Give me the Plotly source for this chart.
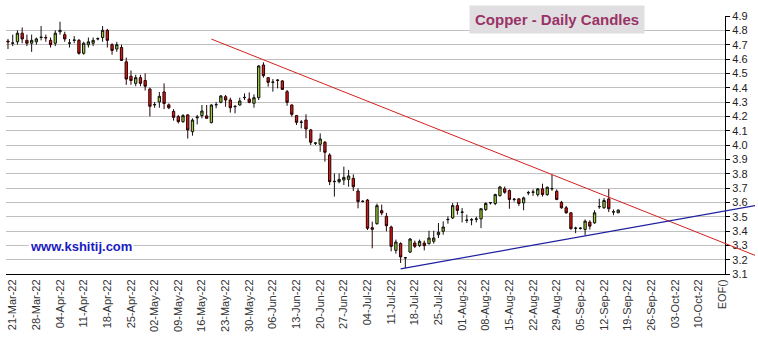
import numpy as np
import pandas as pd
import plotly.graph_objects as go

# Daily OHLC for copper, one entry per weekday starting 18-Mar-2022
opens = [4.725, 4.71, 4.72, 4.78, 4.73, 4.71, 4.72, 4.75, 4.75, 4.73,
         4.71, 4.79, 4.77, 4.71, 4.73, 4.73, 4.64, 4.70, 4.71, 4.74,
         4.75, 4.80, 4.70, 4.67, 4.68, 4.58, 4.48, 4.43, 4.47, 4.45,
         4.39, 4.28, 4.30, 4.37, 4.28, 4.235, 4.198, 4.163, 4.21, 4.093,
         4.19, 4.205, 4.203, 4.156, 4.28, 4.298, 4.337, 4.314, 4.267, 4.279,
         4.33, 4.321, 4.291, 4.33, 4.558, 4.47, 4.437, 4.453, 4.447, 4.372,
         4.279, 4.205, 4.158, 4.174, 4.105, 4.012, 4.005, 4.019, 3.93, 3.744,
         3.744, 3.756, 3.76, 3.767, 3.679, 3.605, 3.616, 3.423, 3.451, 3.542,
         3.502, 3.428, 3.265, 3.312, 3.212, 3.253, 3.316, 3.298, 3.316, 3.312,
         3.328, 3.374, 3.398, 3.479, 3.491, 3.577, 3.53, 3.474, 3.477, 3.482,
         3.485, 3.55, 3.596, 3.592, 3.647, 3.694, 3.682, 3.62, 3.624, 3.596,
         3.666, 3.67, 3.654, 3.694, 3.654, 3.694, 3.677, 3.60, 3.562, 3.527,
         3.418, 3.418, 3.411, 3.462, 3.457, 3.569, 3.562, 3.624, 3.532, 3.527]
highs = [4.74, 4.77, 4.80, 4.82, 4.77, 4.77, 4.75, 4.83, 4.77, 4.75,
         4.80, 4.86, 4.79, 4.74, 4.76, 4.74, 4.72, 4.75, 4.75, 4.75,
         4.83, 4.81, 4.71, 4.72, 4.70, 4.61, 4.52, 4.49, 4.49, 4.50,
         4.40, 4.30, 4.37, 4.43, 4.29, 4.25, 4.21, 4.215, 4.215, 4.186,
         4.21, 4.279, 4.279, 4.284, 4.30, 4.349, 4.349, 4.33, 4.279, 4.33,
         4.36, 4.367, 4.353, 4.558, 4.577, 4.47, 4.46, 4.46, 4.453, 4.384,
         4.284, 4.21, 4.174, 4.214, 4.112, 4.019, 4.081, 4.028, 3.942, 3.802,
         3.802, 3.849, 3.826, 3.795, 3.698, 3.616, 3.623, 3.465, 3.591, 3.584,
         3.526, 3.437, 3.34, 3.321, 3.219, 3.351, 3.333, 3.34, 3.333, 3.402,
         3.402, 3.456, 3.467, 3.502, 3.595, 3.60, 3.56, 3.514, 3.49, 3.50,
         3.56, 3.60, 3.60, 3.66, 3.715, 3.71, 3.69, 3.63, 3.63, 3.64,
         3.68, 3.69, 3.70, 3.73, 3.71, 3.793, 3.69, 3.61, 3.575, 3.53,
         3.43, 3.425, 3.48, 3.475, 3.545, 3.625, 3.63, 3.694, 3.55, 3.55]
lows = [4.67, 4.69, 4.70, 4.71, 4.69, 4.65, 4.70, 4.73, 4.72, 4.68,
        4.69, 4.77, 4.72, 4.68, 4.71, 4.63, 4.63, 4.68, 4.69, 4.73,
        4.72, 4.68, 4.63, 4.65, 4.59, 4.42, 4.42, 4.41, 4.41, 4.38,
        4.20, 4.26, 4.26, 4.25, 4.25, 4.17, 4.15, 4.155, 4.045, 4.065,
        4.144, 4.186, 4.186, 4.151, 4.256, 4.291, 4.267, 4.226, 4.221, 4.274,
        4.314, 4.291, 4.26, 4.314, 4.47, 4.407, 4.372, 4.395, 4.384, 4.274,
        4.198, 4.14, 4.116, 4.047, 4.0, 4.0, 3.953, 3.884, 3.72, 3.64,
        3.733, 3.721, 3.709, 3.679, 3.558, 3.60, 3.407, 3.279, 3.444, 3.51,
        3.398, 3.258, 3.242, 3.177, 3.142, 3.246, 3.281, 3.288, 3.265, 3.305,
        3.312, 3.351, 3.374, 3.451, 3.484, 3.514, 3.46, 3.456, 3.44, 3.46,
        3.42, 3.54, 3.585, 3.58, 3.64, 3.66, 3.555, 3.605, 3.575, 3.545,
        3.65, 3.645, 3.64, 3.64, 3.645, 3.68, 3.615, 3.555, 3.52, 3.41,
        3.385, 3.41, 3.37, 3.41, 3.45, 3.555, 3.555, 3.532, 3.51, 3.525]
closes = [4.72, 4.712, 4.78, 4.74, 4.71, 4.73, 4.74, 4.752, 4.748, 4.70,
          4.78, 4.80, 4.74, 4.712, 4.732, 4.64, 4.71, 4.72, 4.73, 4.742,
          4.80, 4.73, 4.66, 4.70, 4.59, 4.46, 4.45, 4.47, 4.43, 4.41,
          4.27, 4.282, 4.34, 4.29, 4.26, 4.193, 4.163, 4.205, 4.105, 4.174,
          4.195, 4.237, 4.186, 4.279, 4.282, 4.342, 4.314, 4.26, 4.269, 4.307,
          4.332, 4.298, 4.33, 4.551, 4.484, 4.437, 4.439, 4.451, 4.388, 4.298,
          4.214, 4.158, 4.16, 4.112, 4.019, 4.014, 4.042, 3.949, 3.744, 3.746,
          3.76, 3.774, 3.784, 3.709, 3.605, 3.607, 3.419, 3.412, 3.577, 3.526,
          3.437, 3.293, 3.323, 3.219, 3.214, 3.344, 3.293, 3.328, 3.298, 3.351,
          3.351, 3.391, 3.428, 3.481, 3.577, 3.544, 3.532, 3.476, 3.479, 3.484,
          3.555, 3.592, 3.598, 3.654, 3.707, 3.67, 3.62, 3.622, 3.592, 3.631,
          3.668, 3.672, 3.694, 3.654, 3.705, 3.696, 3.62, 3.562, 3.527, 3.416,
          3.42, 3.42, 3.469, 3.434, 3.527, 3.571, 3.613, 3.555, 3.534, 3.546]

first_day = "2022-03-18"
dates = pd.bdate_range(first_day, periods=len(opens))

# Weekly axis labels (Mondays) and the end-of-frame marker
week_starts = pd.date_range("2022-03-21", "2022-10-10", freq="W-MON")
tick_labels = [d.strftime("%d-%b-%y") for d in week_starts] + ["EOF()"]
end_of_frame = "2022-10-17"

# Trend lines: (date, price) end points
red_line_dates = ["2022-05-18", "2022-10-26"]
red_line_prices = [4.739, 3.229]
blue_line_dates = ["2022-07-13", "2022-10-26"]
blue_line_prices = [3.136, 3.5775]

price_ticks = [round(3.1 + 0.1 * k, 1) for k in range(19)]


def day_index(ds):
    """Trading-day slot (weekdays) counted from the first session."""
    d = pd.to_datetime(pd.Index(ds)).values.astype("datetime64[D]")
    return np.busday_count(np.datetime64(first_day, "D"), d)


x_candles = day_index(dates)
tick_pos = list(day_index(week_starts)) + list(day_index([end_of_frame]))

# Plot geometry: main panel ends at the price axis, overlay panel reaches the edge
W, H = 758, 340
m_l, m_r, m_t, m_b = 6, 0, 16, 66
axis_px = 728
main_frac = (axis_px - m_l) / (W - m_l - m_r)
x_lo, x_hi = -0.42, 151.6
x2_hi = x_lo + (x_hi - x_lo) / main_frac

grid_col = "#c0c0c0"
font_fam = "Arial, Liberation Sans, sans-serif"

fig = go.Figure()

fig.add_trace(go.Candlestick(
    x=x_candles, open=opens, high=highs, low=lows, close=closes,
    increasing=dict(fillcolor="#9ACD32", line=dict(color="#111111", width=1)),
    decreasing=dict(fillcolor="#D41A1A", line=dict(color="#2a0000", width=1)),
    whiskerwidth=0, showlegend=False, hoverinfo="skip",
    xaxis="x", yaxis="y",
))

fig.add_trace(go.Scatter(
    x=day_index(red_line_dates), y=red_line_prices, mode="lines",
    line=dict(color="#D42020", width=1), showlegend=False, hoverinfo="skip",
    xaxis="x2", yaxis="y2",
))
fig.add_trace(go.Scatter(
    x=day_index(blue_line_dates), y=blue_line_prices, mode="lines",
    line=dict(color="#1E1EA0", width=1.2), showlegend=False, hoverinfo="skip",
    xaxis="x2", yaxis="y2",
))

fig.update_layout(
    width=W, height=H,
    margin=dict(l=m_l, r=m_r, t=m_t, b=m_b, pad=0),
    paper_bgcolor="white", plot_bgcolor="rgba(0,0,0,0)",
    font=dict(family=font_fam, size=11, color="#222222"),
    xaxis=dict(
        domain=[0, main_frac], range=[x_lo, x_hi], anchor="y",
        tickmode="array", tickvals=tick_pos, ticktext=tick_labels,
        tickangle=-90, ticks="", showgrid=False, zeroline=False,
        showline=True, linecolor="#000000", linewidth=1,
        tickfont=dict(size=11, color="#333333"),
        rangeslider=dict(visible=False),
    ),
    yaxis=dict(
        domain=[0, 1], range=[3.1, 4.9], anchor="x", side="right",
        tickmode="array", tickvals=price_ticks, tickformat=".1f",
        ticks="outside", ticklen=4, tickcolor="#000000",
        showgrid=True, gridcolor=grid_col, gridwidth=1.3,
        showline=True, linecolor="#000000", linewidth=1, zeroline=False,
        tickfont=dict(size=11, color="#222222"),
    ),
    xaxis2=dict(domain=[0, 1], range=[x_lo, x2_hi], anchor="y2", visible=False),
    yaxis2=dict(domain=[0, 1], range=[3.1, 4.9], anchor="x2", visible=False),
    annotations=[
        dict(text="<b>Copper - Daily Candles</b>", xref="paper", yref="paper",
             x=0.7354, y=0.988, xanchor="center", yanchor="middle", showarrow=False,
             font=dict(family=font_fam, size=15, color="#993366"),
             bgcolor="#E1DEE1", borderpad=5),
        dict(text="<b>www.kshitij.com</b>", xref="paper", yref="paper",
             x=0.0997, y=0.1047, xanchor="center", yanchor="middle", showarrow=False,
             font=dict(family=font_fam, size=13, color="#1A1AC0"),
             bgcolor="white", borderpad=1),
    ],
)

fig.write_html("out.html")
